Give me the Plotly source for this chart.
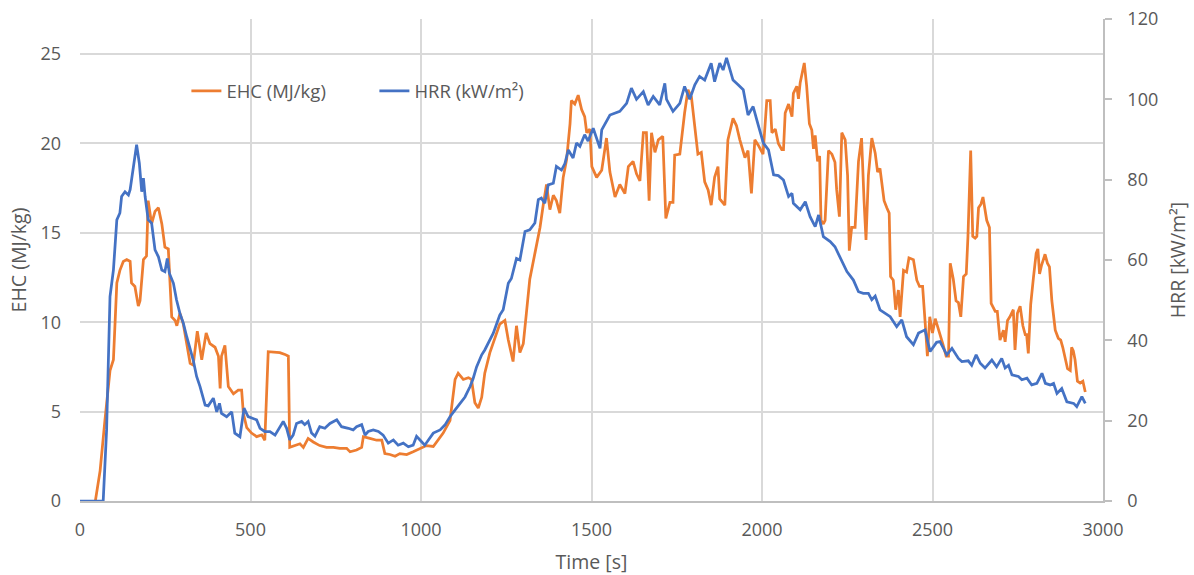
import plotly.graph_objects as go

# Effective heat of combustion (left axis)
ehc_time = [45, 59, 73, 88, 98, 108, 117, 127, 137, 147, 151, 161, 171, 176, 186, 195, 200, 210, 220, 230,
            240, 249, 259, 264, 269, 279, 284, 293, 303, 313, 323, 332, 344, 357, 370, 381, 396, 406, 411, 415,
            425, 435, 450, 464, 474, 479, 489, 503, 518, 533, 542, 552, 572, 586, 601, 611, 615, 630, 645, 655,
            669, 684, 703, 723, 743, 762, 782, 792, 811, 826, 831, 850, 870, 885, 894, 909, 924, 938, 958, 977,
            997, 1016, 1036, 1065, 1085, 1100, 1109, 1124, 1139, 1148, 1158, 1168, 1178, 1187, 1202, 1217, 1231,
            1246, 1256, 1270, 1280, 1290, 1300, 1309, 1319, 1334, 1349, 1358, 1368, 1378, 1388, 1397, 1407, 1417,
            1427, 1437, 1441, 1451, 1461, 1471, 1480, 1486, 1495, 1501, 1515, 1530, 1544, 1554, 1569, 1583, 1598,
            1608, 1622, 1632, 1642, 1652, 1661, 1669, 1676, 1686, 1696, 1709, 1718, 1730, 1739, 1744, 1759, 1773,
            1783, 1793, 1803, 1812, 1822, 1832, 1842, 1851, 1861, 1871, 1876, 1891, 1900, 1915, 1925, 1935, 1950,
            1959, 1969, 1979, 1989, 2003, 2014, 2024, 2029, 2039, 2048, 2058, 2063, 2068, 2078, 2088, 2092, 2102,
            2107, 2112, 2124, 2131, 2139, 2146, 2151, 2156, 2163, 2169, 2173, 2180, 2185, 2195, 2205, 2214, 2219,
            2227, 2234, 2244, 2251, 2256, 2263, 2273, 2283, 2292, 2299, 2305, 2312, 2322, 2332, 2339, 2346, 2358,
            2366, 2373, 2377, 2385, 2392, 2400, 2405, 2415, 2424, 2431, 2444, 2454, 2462, 2471, 2478, 2485, 2492,
            2500, 2508, 2518, 2530, 2540, 2547, 2552, 2561, 2569, 2576, 2583, 2591, 2599, 2604, 2612, 2618, 2625,
            2630, 2635, 2642, 2648, 2653, 2659, 2667, 2672, 2684, 2690, 2698, 2708, 2713, 2720, 2727, 2737, 2742,
            2749, 2757, 2765, 2772, 2776, 2781, 2788, 2796, 2804, 2809, 2814, 2820, 2830, 2837, 2843, 2850, 2860,
            2869, 2876, 2882, 2889, 2896, 2904, 2908, 2913, 2918, 2925, 2933, 2941, 2948]
ehc_value = [0.0, 1.7, 4.5, 7.3, 7.9, 12.2, 12.9, 13.4, 13.5, 13.4, 12.2, 12.0, 10.9, 11.2, 13.5, 13.7, 16.8, 15.5, 16.2, 16.4,
             15.5, 14.2, 14.1, 12.4, 10.3, 10.1, 9.8, 10.5, 9.9, 8.8, 7.7, 7.6, 9.5, 7.9, 9.4, 8.8, 8.6, 8.1, 6.3, 8.1,
             8.7, 6.4, 6.0, 6.2, 6.2, 4.9, 4.1, 3.8, 3.6, 3.7, 3.4, 8.35, 8.3, 8.3, 8.2, 8.1, 3.0, 3.1, 3.2, 3.0,
             3.5, 3.3, 3.1, 3.0, 3.0, 2.95, 2.95, 2.75, 2.85, 3.0, 3.6, 3.5, 3.4, 3.4, 2.65, 2.6, 2.5, 2.65, 2.6, 2.75,
             2.95, 3.1, 3.05, 3.8, 4.5, 6.8, 7.15, 6.8, 6.9, 6.8, 5.5, 5.2, 5.8, 7.15, 8.3, 9.2, 9.9,
             10.1, 9.0, 7.8, 9.8, 8.3, 8.8, 10.5, 12.4, 13.85, 15.3, 16.5, 17.7, 16.3, 17.1, 16.8, 16.1, 18.1,
             19.1, 21.1, 22.4, 22.2, 22.7, 21.9, 21.5, 20.6, 20.8, 18.7, 18.1, 18.5, 20.3, 18.4, 17.0, 17.7, 17.2,
             18.7, 19.0, 18.3, 17.9, 20.6, 20.6, 16.8, 20.6, 19.5, 20.2, 20.4, 15.8, 16.7, 16.7, 19.35, 19.4, 21.7,
             23.0, 22.6, 20.7, 19.4, 19.5, 17.85, 17.4, 16.55, 18.1, 18.7, 16.9, 16.55, 20.2, 21.4, 21.0, 20.2, 19.2,
             19.6, 17.2, 20.2, 19.9, 19.4, 22.4, 22.4, 20.6, 20.8, 20.0, 19.65, 19.65, 21.7, 22.2, 21.5, 22.8, 23.2,
             22.5, 23.4, 24.5, 23.2, 21.1, 20.75, 19.7, 20.45, 19.0, 19.3, 15.7, 15.5, 15.7, 19.6, 19.4, 18.95, 17.4,
             15.9, 20.6, 20.2, 18.2, 14.0, 15.3, 15.3, 19.0, 20.3, 16.9, 14.6, 18.2, 20.3, 19.45, 18.4, 18.6, 16.8,
             16.4, 16.1, 12.55, 12.35, 10.7, 11.8, 10.3, 12.9, 12.8, 13.6, 13.5, 12.35, 12.0, 12.0, 10.1, 8.1, 10.3,
             9.4, 10.2, 9.6, 8.8, 8.1, 8.1, 13.3, 12.4, 11.2, 11.1, 10.3, 12.55, 12.7, 14.8, 19.6, 14.8, 14.7,
             14.8, 16.4, 16.6, 17.0, 16.3, 15.7, 15.3, 11.05, 10.6, 10.6, 9.0, 9.55, 8.9, 10.1, 10.3, 10.7, 8.45,
             10.5, 10.9, 9.8, 9.3, 9.3, 8.25, 11.0, 12.5, 13.85, 14.1, 12.7, 13.2, 13.8, 13.3, 13.1, 11.2, 9.55,
             9.1, 9.0, 8.6, 7.9, 7.4, 7.3, 8.6, 8.4, 7.9, 6.7, 6.6, 6.7, 6.1]

# Heat release rate (right axis)
hrr_time = [0, 68, 78, 88, 98, 108, 117, 122, 132, 142, 147, 156, 166, 174, 181, 186, 191, 200, 210, 220,
            230, 240, 249, 256, 262, 274, 283, 293, 303, 313, 323, 332, 342, 352, 367, 376, 391, 401, 409, 415,
            430, 445, 454, 469, 481, 493, 518, 528, 542, 557, 572, 586, 596, 606, 615, 625, 635, 650, 659, 669,
            679, 689, 703, 718, 733, 753, 767, 787, 801, 811, 826, 836, 845, 860, 875, 889, 904, 919, 933, 948,
            963, 977, 987, 997, 1011, 1036, 1056, 1070, 1085, 1100, 1114, 1129, 1144, 1153, 1163, 1178, 1187, 1197,
            1212, 1231, 1241, 1256, 1265, 1280, 1290, 1305, 1319, 1334, 1344, 1353, 1363, 1373, 1388, 1397, 1412,
            1422, 1432, 1446, 1456, 1466, 1480, 1490, 1505, 1525, 1530, 1554, 1583, 1603, 1617, 1632, 1652, 1666,
            1681, 1700, 1715, 1720, 1739, 1759, 1773, 1788, 1803, 1817, 1832, 1851, 1861, 1876, 1886, 1896, 1915,
            1930, 1945, 1959, 1974, 1989, 2004, 2019, 2034, 2048, 2063, 2078, 2088, 2092, 2112, 2127, 2141, 2156,
            2166, 2180, 2200, 2214, 2229, 2249, 2268, 2283, 2297, 2312, 2322, 2332, 2346, 2361, 2376, 2395, 2410,
            2424, 2444, 2459, 2478, 2493, 2512, 2522, 2542, 2557, 2576, 2586, 2605, 2615, 2628, 2640, 2654, 2674,
            2688, 2703, 2713, 2723, 2733, 2752, 2762, 2777, 2791, 2806, 2821, 2831, 2845, 2855, 2865, 2879, 2894,
            2914, 2923, 2938, 2948]
hrr_value = [0.0, 0.0, 17.7, 50.9, 57.5, 70.0, 71.7, 75.8, 77.0, 76.2, 77.5, 83.3, 88.7, 84.1, 77.0, 80.4, 75.8, 70.0, 69.2, 62.5,
             60.8, 57.5, 57.1, 60.4, 56.7, 54.2, 50.1, 46.7, 44.3, 40.9, 37.6, 35.1, 31.0, 28.5, 23.9, 23.7, 25.6, 22.2, 24.3, 21.8,
             21.0, 22.2, 16.9, 16.0, 23.1, 21.0, 20.2, 18.1, 17.3, 17.3, 16.4, 18.5, 19.8, 18.1, 15.2, 16.4, 19.3, 19.8, 19.0, 19.8,
             16.9, 16.1, 18.5, 18.1, 19.3, 20.2, 18.5, 18.1, 17.7, 18.5, 19.0, 16.4, 17.3, 17.7, 17.3, 16.4, 14.4, 15.2, 13.9, 14.4,
             13.5, 13.9, 16.1, 15.2, 13.9, 16.9, 17.7, 18.9, 21.0, 22.7, 24.3, 25.9, 28.5, 30.5, 33.4, 36.4, 37.6, 39.3,
             41.8, 46.3, 47.6, 54.2, 55.4, 60.4, 60.0, 67.1, 67.5, 69.2, 75.0, 75.4, 74.1, 78.7, 79.1, 83.3, 82.4,
             84.0, 87.4, 85.4, 89.1, 88.3, 91.2, 89.6, 92.8, 87.8, 92.4, 96.1, 97.0, 99.0, 102.8, 100.0, 101.9, 98.6,
             100.7, 98.6, 104.0, 100.0, 97.0, 99.0, 103.2, 100.0, 103.6, 105.7, 104.8, 109.0, 104.4, 109.0, 107.3, 110.3, 104.8,
             103.6, 102.4, 96.1, 98.2, 93.6, 89.1, 87.4, 81.2, 81.0, 79.9, 75.8, 76.6, 74.1, 72.5, 74.5, 70.8, 68.3,
             71.2, 65.8, 64.6, 63.3, 60.8, 57.1, 55.0, 52.1, 51.7, 51.7, 50.1, 51.0, 47.6, 46.7, 45.9, 43.4, 45.1,
             40.9, 38.9, 41.8, 42.6, 37.2, 39.5, 39.7, 36.4, 38.0, 35.5, 34.7, 34.9, 33.8, 36.4, 34.3, 33.1, 35.1,
             33.4, 35.5, 33.1, 33.8, 31.4, 31.0, 30.2, 30.6, 28.9, 29.3, 31.8, 29.3, 28.9, 29.3, 26.8, 28.0, 24.7,
             24.3, 23.5, 26.0, 24.3]

x_ticks = [0, 500, 1000, 1500, 2000, 2500, 3000]
ehc_ticks = [0, 5, 10, 15, 20, 25]
hrr_ticks = [0, 20, 40, 60, 80, 100, 120]

ORANGE = "#ED7D31"
BLUE = "#4472C4"
TEXT = "#595959"
GRID = "#D9D9D9"
AXIS = "#BFBFBF"
FONT = "Open Sans"
TICK_SIZE = 18
TITLE_SIZE = 19.5

fig = go.Figure()
fig.add_trace(go.Scatter(x=ehc_time, y=ehc_value, name="EHC (MJ/kg)", mode="lines",
                         line=dict(color=ORANGE, width=2.75), yaxis="y"))
fig.add_trace(go.Scatter(x=hrr_time, y=hrr_value, name="HRR (kW/m²)", mode="lines",
                         line=dict(color=BLUE, width=2.75), yaxis="y2"))

fig.update_layout(
    width=1194, height=575,
    margin=dict(l=80, r=91, t=19, b=74),
    paper_bgcolor="white", plot_bgcolor="white",
    font=dict(family=FONT, size=TICK_SIZE, color=TEXT),
    showlegend=True,
    legend=dict(orientation="h", x=0.104, xanchor="left", y=0.850, yanchor="middle",
                font=dict(family=FONT, size=18.5, color=TEXT), bgcolor="rgba(0,0,0,0)",
                entrywidth=143, entrywidthmode="pixels"),
    xaxis=dict(range=[0, 3000], tickvals=x_ticks, showgrid=True, gridcolor=GRID, gridwidth=1.5,
               showline=True, linecolor=AXIS, linewidth=1.5, zeroline=False, ticks="",
               automargin=False, ticklabelstandoff=12, tickfont=dict(size=TICK_SIZE, color=TEXT),
               title=dict(text="Time [s]", font=dict(size=TITLE_SIZE, color=TEXT), standoff=18)),
    yaxis=dict(range=[0, 26.96], tickvals=ehc_ticks, showgrid=True, gridcolor=GRID, gridwidth=1.5,
               showline=False, zeroline=False, ticks="", ticklabelstandoff=18, automargin=False,
               tickfont=dict(size=TICK_SIZE, color=TEXT),
               title=dict(text="EHC (MJ/kg)", font=dict(size=TITLE_SIZE, color=TEXT), standoff=8)),
    yaxis2=dict(range=[0, 120], tickvals=hrr_ticks, overlaying="y", side="right", showgrid=False,
                showline=True, linecolor=AXIS, linewidth=1.5, zeroline=False, automargin=False,
                ticks="outside", ticklen=7, tickcolor=AXIS, tickwidth=1.5, ticklabelstandoff=12,
                tickfont=dict(size=TICK_SIZE, color=TEXT),
                title=dict(text="HRR [kW/m²]", font=dict(size=TITLE_SIZE, color=TEXT), standoff=14)),
)

fig.write_html("out.html")
